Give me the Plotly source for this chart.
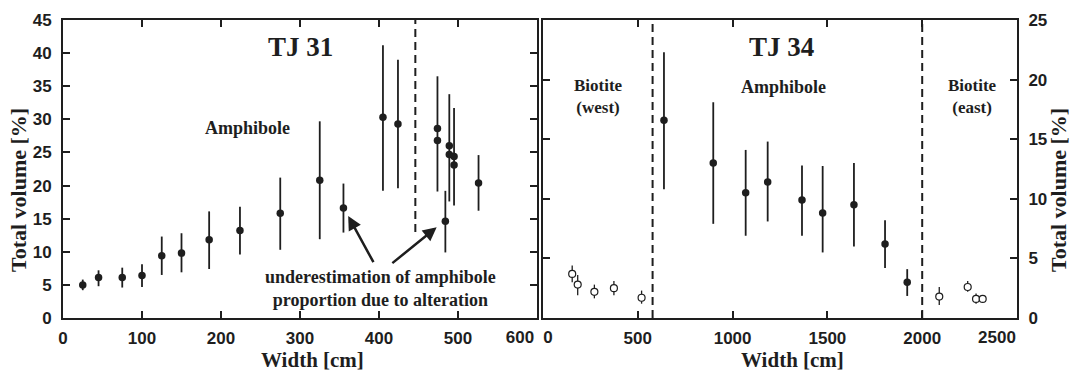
import plotly.graph_objects as go

# ---------------- data: TJ 31 (left panel) ----------------
tj31_width = [25, 45, 75, 100, 125, 150, 185, 224, 275, 325, 355, 405, 424, 474, 474, 484, 489, 489, 495, 495, 526]
tj31_vol = [5.0, 6.1, 6.1, 6.4, 9.4, 9.8, 11.8, 13.2, 15.8, 20.8, 16.6, 30.3, 29.3, 28.6, 26.8, 14.6, 26.0, 24.7, 24.4, 23.1, 20.4]
tj31_hi = [5.8, 7.2, 7.6, 8.1, 12.3, 12.8, 16.1, 16.8, 21.2, 29.7, 20.3, 41.2, 39.0, 36.5, 26.8, 19.2, 33.8, 24.7, 31.7, 23.1, 24.6]
tj31_lo = [4.2, 4.8, 4.6, 4.7, 6.5, 6.9, 7.4, 9.6, 10.3, 11.9, 12.9, 19.2, 19.6, 19.1, 26.8, 9.9, 17.6, 24.7, 17.0, 23.1, 16.2]
tj31_boundary = 446

# ---------------- data: TJ 34 (right panel) ----------------
tj34_amph_width = [638, 898, 1069, 1185, 1366, 1475, 1640, 1804, 1921]
tj34_amph_vol = [16.6, 13.0, 10.5, 11.4, 9.9, 8.8, 9.5, 6.2, 3.0]
tj34_amph_hi = [22.3, 18.1, 14.1, 14.8, 12.8, 12.75, 13.0, 8.2, 4.1]
tj34_amph_lo = [10.8, 7.9, 6.9, 8.1, 6.9, 5.5, 6.0, 4.2, 1.85]

tj34_bio_width = [154, 183, 271, 374, 520, 2090, 2240, 2284, 2319]
tj34_bio_vol = [3.7, 2.8, 2.2, 2.5, 1.7, 1.8, 2.6, 1.6, 1.6]
tj34_bio_hi = [4.4, 3.6, 2.8, 3.1, 2.3, 2.6, 3.1, 2.05, 1.9]
tj34_bio_lo = [3.0, 1.9, 1.65, 1.9, 1.2, 1.1, 2.2, 1.2, 1.3]
tj34_boundaries = [578, 2000]

# tick labels
x1_ticks = [0, 100, 200, 300, 400, 500, 600]
x1_labels = ["0", "100", "200", "300", "400", "500", "600"]
x2_ticks = [0, 500, 1000, 1500, 2000, 2500]
x2_labels = ["0", "500", "1000", "1500", "2000", "2500"]
y1_ticks = [0, 5, 10, 15, 20, 25, 30, 35, 40, 45]
y1_labels = ["0", "5", "10", "15", "20", "25", "30", "35", "40", "45"]
y2_ticks = [0, 5, 10, 15, 20, 25]
y2_labels = ["0", "5", "10", "15", "20", "25"]

INK = "#1e1e1e"
SERIF = "Liberation Serif"
SANS = "Liberation Sans"


def errs(vals, hi, lo):
    return [h - v for v, h in zip(vals, hi)], [v - l for v, l in zip(vals, lo)]


def bold(lst):
    return [f"<b>{t}</b>" for t in lst]


fig = go.Figure()

p, m = errs(tj31_vol, tj31_hi, tj31_lo)
fig.add_trace(go.Scatter(
    x=tj31_width, y=tj31_vol, mode="markers", xaxis="x", yaxis="y",
    marker=dict(color=INK, size=7.5),
    error_y=dict(type="data", array=p, arrayminus=m, color=INK, thickness=1.8, width=0),
    showlegend=False))

p, m = errs(tj34_amph_vol, tj34_amph_hi, tj34_amph_lo)
fig.add_trace(go.Scatter(
    x=tj34_amph_width, y=tj34_amph_vol, mode="markers", xaxis="x2", yaxis="y2",
    marker=dict(color=INK, size=7.5),
    error_y=dict(type="data", array=p, arrayminus=m, color=INK, thickness=1.8, width=0),
    showlegend=False))

p, m = errs(tj34_bio_vol, tj34_bio_hi, tj34_bio_lo)
fig.add_trace(go.Scatter(
    x=tj34_bio_width, y=tj34_bio_vol, mode="markers", xaxis="x2", yaxis="y2",
    marker=dict(color="white", size=7, line=dict(color=INK, width=1.2)),
    error_y=dict(type="data", array=p, arrayminus=m, color=INK, thickness=1.3, width=0),
    showlegend=False))

tickfont = dict(family=SANS, size=17, color=INK, weight=700)
common = dict(showline=True, linecolor=INK, linewidth=2, mirror="ticks",
              ticks="inside", ticklen=7, tickwidth=1.5, tickcolor=INK,
              showgrid=False, zeroline=False, tickfont=tickfont, automargin=False,
              tickmode="array")

L_DOM = [63 / 1072, 537 / 1072]
R_DOM = [543 / 1072, 1017 / 1072]
ydom = [1 - 318 / 371, 1 - 20 / 371]
XSTAND = 4

# edge labels carried by overlay axes so they can be nudged like the reference
edge = dict(showline=False, ticks="", showgrid=False, zeroline=False, automargin=False,
            tickfont=tickfont, tickmode="array", ticklabelstandoff=XSTAND + 3, side="bottom")

fig.update_layout(
    width=1072, height=371, margin=dict(l=0, r=0, t=0, b=0),
    paper_bgcolor="white", plot_bgcolor="white",
    xaxis=dict(domain=L_DOM, range=[0, 600], anchor="y",
               tickvals=x1_ticks, ticktext=bold(x1_labels[:-1]) + [""],
               ticklabelstandoff=XSTAND, **common),
    yaxis=dict(domain=ydom, range=[0, 45], anchor="x",
               tickvals=y1_ticks, ticktext=bold(y1_labels), ticklabelstandoff=6, **common),
    xaxis2=dict(domain=R_DOM, range=[0, 2500], anchor="y2",
                tickvals=x2_ticks, ticktext=[""] + bold(x2_labels[1:-1]) + [""],
                ticklabelstandoff=XSTAND, **common),
    yaxis2=dict(domain=ydom, range=[0, 25], anchor="x2", side="right",
                tickvals=y2_ticks, ticktext=bold(y2_labels), ticklabelstandoff=6, **common),
    xaxis3=dict(domain=L_DOM, range=[0, 600], anchor="y", overlaying="x",
                tickvals=x1_ticks[-1:], ticktext=bold(x1_labels[-1:]), ticklabelshift=-17, **edge),
    xaxis4=dict(domain=R_DOM, range=[0, 2500], anchor="y2", overlaying="x2",
                tickvals=x2_ticks[:1], ticktext=bold(x2_labels[:1]), ticklabelshift=5, **edge),
    xaxis5=dict(domain=R_DOM, range=[0, 2500], anchor="y2", overlaying="x2",
                tickvals=x2_ticks[-1:], ticktext=bold(x2_labels[-1:]), ticklabelshift=-20, **edge),
)

# invisible anchors so the overlay axes are drawn
for ax, ay, xv in [("x3", "y", x1_ticks[-1]), ("x4", "y2", x2_ticks[0]), ("x5", "y2", x2_ticks[-1])]:
    fig.add_trace(go.Scatter(x=[xv], y=[None], xaxis=ax, yaxis=ay, mode="markers",
                             showlegend=False, hoverinfo="skip"))

dash_line = dict(color=INK, width=2, dash="8px,5px")
fig.add_shape(type="line", xref="x", yref="y", x0=tj31_boundary, x1=tj31_boundary,
              y0=13.0, y1=45, line=dash_line)
for b in tj34_boundaries:
    fig.add_shape(type="line", xref="x2", yref="y2", x0=b, x1=b, y0=0, y1=25, line=dash_line)


def label(text, x, y, size, xref="x", yref="y", angle=0):
    fig.add_annotation(text=f"<b>{text}</b>", x=x, y=y, xref=xref, yref=yref,
                       showarrow=False, textangle=angle,
                       font=dict(family=SERIF, size=size, color=INK),
                       xanchor="center", yanchor="middle")


label("TJ 31", 300, 40.9, 27)
label("Amphibole", 233, 28.7, 18)
label("underestimation of amphibole<br>proportion due to alteration", 402, 4.5, 18)

label("TJ 34", 1260, 22.7, 27, "x2", "y2")
label("Amphibole", 1266, 19.4, 18, "x2", "y2")
label("Biotite<br>(west)", 295, 18.6, 17, "x2", "y2")
label("Biotite<br>(east)", 2263, 18.6, 17, "x2", "y2")

# arrows
for (hx, hy, tx, ty) in [(361, 15.4, 394, 8.2), (473, 13.7, 415, 8.1)]:
    fig.add_annotation(x=hx, y=hy, ax=tx, ay=ty, xref="x", yref="y", axref="x", ayref="y",
                       text="", showarrow=True, arrowhead=2, arrowsize=1.1,
                       arrowwidth=2.5, arrowcolor=INK)

# axis titles
label("Width [cm]", 312 / 1072, 1 - 360 / 371, 21, "paper", "paper")
label("Width [cm]", 792 / 1072, 1 - 360 / 371, 21, "paper", "paper")
label("Total volume [%]", 18 / 1072, 1 - 190 / 371, 22, "paper", "paper", -90)
label("Total volume [%]", 1058 / 1072, 1 - 190 / 371, 22, "paper", "paper", -90)

fig.write_html("out.html")
